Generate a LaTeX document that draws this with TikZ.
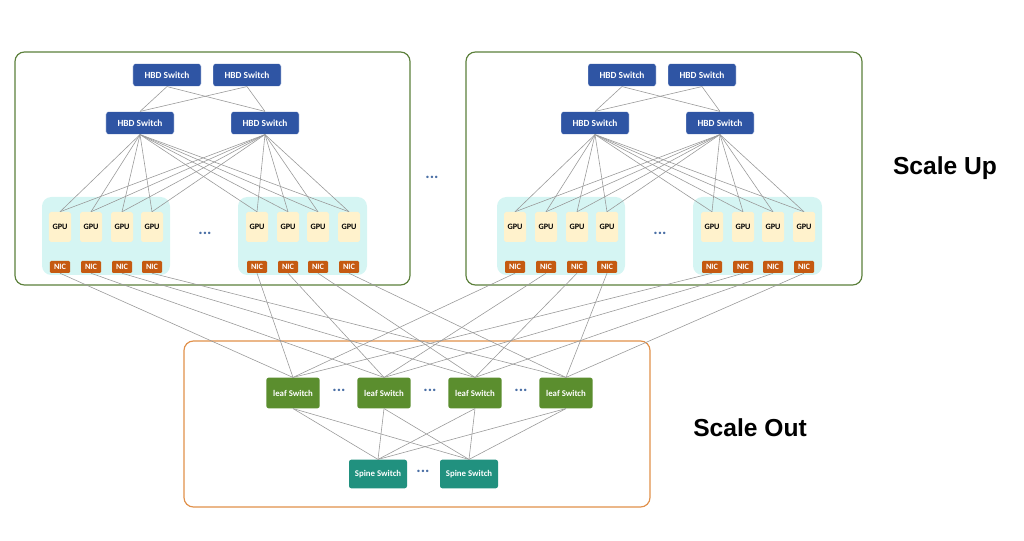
\documentclass[tikz,border=0pt]{standalone}
\usepackage{fontspec}
\setmainfont{Carlito}
\newfontfamily\arialf{Liberation Sans}
\begin{document}
\begin{tikzpicture}[x=0.03cm,y=-0.03cm,
 hbd/.style={draw=white,line width=0.4pt,fill=hbdc,rounded corners=2pt,minimum width=2.04cm,minimum height=0.68cm,text=white,font=\fontsize{8}{9}\selectfont\bfseries,inner sep=0},
 gpu/.style={fill=gpuc,rounded corners=1.5pt,minimum width=0.66cm,minimum height=0.9cm,font=\fontsize{7}{8}\selectfont\bfseries,inner sep=0},
 nic/.style={fill=nicc,rounded corners=1pt,minimum width=0.6cm,minimum height=0.36cm,text=white,font=\fontsize{7}{8}\selectfont\bfseries,inner sep=0},
 leaf/.style={fill=leafc,rounded corners=2pt,minimum width=1.6cm,minimum height=0.92cm,text=white,font=\fontsize{7.5}{9}\selectfont\bfseries,inner sep=0},
 spine/.style={fill=spinec,rounded corners=2pt,minimum width=1.74cm,minimum height=0.86cm,text=white,font=\fontsize{7.5}{9}\selectfont\bfseries,inner sep=0},
 ln/.style={draw=gray!80,line width=0.5pt},
 dots/.style={text=dotc,font=\fontsize{14}{14}\selectfont\bfseries}]
\definecolor{hbdc}{HTML}{2F55A4}\definecolor{gpuc}{HTML}{FFF2CC}\definecolor{nicc}{HTML}{C55A11}
\definecolor{cyanc}{HTML}{D5F5F3}\definecolor{leafc}{HTML}{5B8E2E}\definecolor{spinec}{HTML}{21917F}
\definecolor{podc}{HTML}{5B7F3A}\definecolor{outc}{HTML}{E0904A}\definecolor{dotc}{HTML}{4A6FA5}
\useasboundingbox (0,0) rectangle (1024,541);
\draw[podc,line width=1pt,rounded corners=8pt] (15,52) rectangle (410,285);
\draw[podc,line width=1pt,rounded corners=8pt] (466,52) rectangle (862,285);
\draw[outc,line width=1pt,rounded corners=8pt] (184,341) rectangle (650,507);
\foreach \p/\o in {A/0,B/455}{
 \fill[cyanc,rounded corners=8pt] (42+\o,197) rectangle (170+\o,275);
 \fill[cyanc,rounded corners=8pt] (238+\o,197) rectangle (367+\o,275);
 \node[hbd] (\p t1) at (167+\o,75) {HBD Switch};
 \node[hbd] (\p t2) at (247+\o,75) {HBD Switch};
 \node[hbd] (\p s1) at (140+\o,123) {HBD Switch};
 \node[hbd] (\p s2) at (265+\o,123) {HBD Switch};
 \foreach \i/\x in {1/60,2/91,3/122,4/152,5/257,6/288,7/318,8/349}{
  \node[gpu] (\p g\i) at (\x+\o,227) {GPU};
  \node[nic] (\p n\i) at (\x+\o,267) {NIC};
 }
 \node[dots] (\p d) at (205+\o,233) {...};
 \foreach \a in {1,2}{\foreach \b in {1,2}{\draw[ln] (\p t\a.south) -- (\p s\b.north);}}
 \foreach \a in {1,2}{\foreach \i in {1,...,8}{\draw[ln] (\p s\a.south) -- (\p g\i.north);}}
}
\node[dots] (dd) at (432,177) {...};
\foreach \j/\x in {1/293,2/384,3/475,4/566}{\node[leaf] (l\j) at (\x,393) {leaf Switch};}
\foreach \x in {339,430,521}{\node[dots] at (\x,390) {...};}
\node[spine] (s1) at (378,474) {Spine Switch};
\node[spine] (s2) at (469,474) {Spine Switch};
\node[dots] at (423,471) {...};
\foreach \p in {A,B}{\foreach \j in {1,...,4}{
 \pgfmathtruncatemacro{\k}{\j+4}
 \draw[ln] (\p n\j.south) -- (l\j.north);
 \draw[ln] (\p n\k.south) -- (l\j.north);}}
\foreach \j in {1,...,4}{\draw[ln] (l\j.south) -- (s1.north); \draw[ln] (l\j.south) -- (s2.north);}
\node[font=\arialf\fontsize{21}{24}\selectfont\bfseries] (su) at (945,168) {Scale Up};
\node[font=\arialf\fontsize{21}{24}\selectfont\bfseries] (so) at (750,428) {Scale Out};
\end{tikzpicture}
\end{document}
